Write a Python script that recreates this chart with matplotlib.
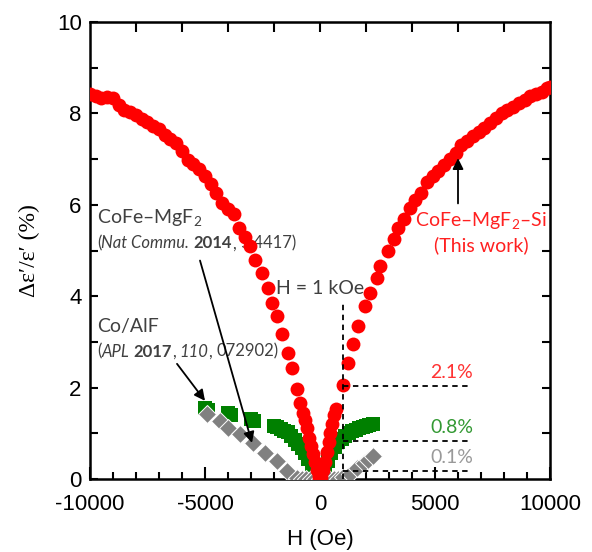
import matplotlib
matplotlib.use("Agg")
import matplotlib.pyplot as plt
from matplotlib.ticker import MultipleLocator

# ---------------- data ----------------
red_x = [-10000, -9750, -9500, -9250, -9000, -8750, -8500, -8250, -8000, -7750,
         -7500, -7250, -7000, -6750, -6500, -6250, -6000, -5750, -5500, -5250,
         -5000, -4750, -4500, -4250, -4000, -3750, -3500, -3250, -3050,
         -2830, -2520, -2260, -2090, -1870, -1650, -1390, -1220, -1000, -870,
         -750, -650, -560, -460, -380, -300, -200, -120, -40,
         40, 120, 200, 300, 380, 450, 520, 600, 680,
         1000, 1220, 1435, 1650, 1960, 2170, 2480, 2610, 2960,
         3200, 3400, 3650, 3900, 4150, 4400, 4650, 4900, 5150, 5400,
         5650, 5900, 6150, 6400, 6650, 6900, 7150, 7400, 7650, 7900,
         8150, 8400, 8650, 8900, 9150, 9400, 9650, 9850, 10000]
red_y = [8.42, 8.38, 8.33, 8.36, 8.33, 8.18, 8.08, 8.02, 7.96, 7.88,
         7.82, 7.72, 7.65, 7.53, 7.45, 7.36, 7.18, 6.98, 6.90, 6.78,
         6.62, 6.45, 6.25, 6.05, 5.90, 5.80, 5.50, 5.30, 5.10,
         4.80, 4.50, 4.19, 3.86, 3.57, 3.18, 2.76, 2.43, 1.97, 1.67,
         1.45, 1.30, 1.12, 0.90, 0.72, 0.55, 0.38, 0.20, 0.05,
         0.05, 0.20, 0.38, 0.60, 0.80, 1.00, 1.20, 1.40, 1.54,
         2.05, 2.54, 2.96, 3.35, 3.79, 4.08, 4.39, 4.67, 4.98,
         5.25, 5.50, 5.70, 5.92, 6.10, 6.25, 6.50, 6.62, 6.75, 6.88,
         7.00, 7.13, 7.30, 7.40, 7.50, 7.60, 7.68, 7.78, 7.90, 8.00,
         8.07, 8.15, 8.22, 8.30, 8.38, 8.42, 8.47, 8.55, 8.58]

green_x = [-5000, -4850, -4000, -3850, -3000, -2850,
           -2000, -1850, -1700, -1550, -1400, -1250, -1100, -950, -800, -650,
           -500, -350, -200, -80,
           80, 200, 350, 500, 650, 800, 950, 1100, 1250, 1400, 1550, 1700,
           1850, 2000, 2150, 2300]
green_y = [1.56, 1.50, 1.45, 1.40, 1.32, 1.27,
           1.16, 1.13, 1.10, 1.06, 1.02, 0.95, 0.86, 0.77, 0.68, 0.56,
           0.43, 0.30, 0.17, 0.05,
           0.08, 0.22, 0.40, 0.56, 0.70, 0.80, 0.88, 0.95, 1.00, 1.04, 1.08, 1.11,
           1.14, 1.16, 1.18, 1.20]

gray_x = [-4913, -4348, -4000, -3478, -2913, -2391, -1870, -1435, -1000,
          -800, -600, -400, -200, 0, 200, 400, 600, 800,
          1000, 1300, 1600, 1900, 2100, 2300]
gray_y = [1.42, 1.27, 1.12, 0.99, 0.79, 0.57, 0.39, 0.18, 0.02,
          0.0, 0.0, 0.0, 0.0, 0.0, 0.0, 0.0, 0.0, 0.0,
          0.05, 0.12, 0.25, 0.35, 0.42, 0.50]

h_ref = 1000
pct_levels = [2.04, 0.83, 0.18]
pct_labels = ["2.1%", "0.8%", "0.1%"]
pct_colors = ["#ff3333", "#339933", "#999999"]

# ---------------- figure ----------------
plt.rcParams['mathtext.fontset'] = 'custom'
plt.rcParams['mathtext.rm'] = 'Lato'
plt.rcParams['mathtext.it'] = 'Lato:italic'
plt.rcParams['mathtext.bf'] = 'Lato:bold'
plt.rcParams['axes.unicode_minus'] = False

fig = plt.figure(figsize=(5.92, 5.52), dpi=100)
ax = fig.add_axes([90/592, 73/552, 460/592, 457/552])

ax.plot(green_x, green_y, linestyle='none', marker='s', markersize=9.5,
        color='#008000', markeredgewidth=0, zorder=3)
ax.plot(gray_x, gray_y, linestyle='none', marker='D', markersize=9.5,
        color='#808080', markeredgecolor='white', markeredgewidth=0.7, zorder=4)
ax.plot(red_x, red_y, linestyle='none', marker='o', markersize=10,
        color='#ff0000', markeredgewidth=0, zorder=5)

# dashed guides
ax.plot([h_ref, h_ref], [0, 3.86], color='black', linestyle=(0, (3, 2.5)), lw=1.3, zorder=6)
for lvl, lab, col in zip(pct_levels, pct_labels, pct_colors):
    ax.plot([h_ref, 6600], [lvl, lvl], color='black', linestyle=(0, (3, 2.5)), lw=1.3, zorder=6)
    ax.text(6650, lvl + 0.1, lab, color=col, fontsize=14, family='Lato',
            ha='right', va='bottom')

txtc = '#404040'
ax.text(0, 4.17, "H = 1 kOe", color=txtc, fontsize=14, family='Lato', ha='center', va='center')

ax.text(-9700, 5.72, "CoFe–MgF$_2$", color=txtc, fontsize=14, family='Lato', ha='left', va='center')
ax.text(-9700, 3.33, "Co/AlF", color=txtc, fontsize=14, family='Lato', ha='left', va='center')


def rich(x, y, parts, size=12):
    """parts: list of (text, style, weight, gap_before_pts)."""
    prev = None
    for s, style, weight, gap in parts:
        kw = dict(color=txtc, fontsize=size, family='Lato', style=style, weight=weight)
        if prev is None:
            prev = ax.text(x, y, s, ha='left', va='bottom', **kw)
        else:
            prev = ax.annotate(s, xy=(1, 0), xycoords=prev, xytext=(gap, 0),
                               textcoords='offset points', ha='left', va='bottom', **kw)


rich(-9700, 4.98, [("(", 'normal', 'normal', 0),
                   ("Nat Commu.", 'italic', 'normal', 0),
                   ("2014", 'normal', 'bold', 3),
                   (",", 'normal', 'normal', 0),
                   ("5,4417)", 'normal', 'normal', 3)])
rich(-9700, 2.61, [("(", 'normal', 'normal', 0),
                   ("APL", 'italic', 'normal', 0),
                   ("2017", 'normal', 'bold', 3),
                   (",", 'normal', 'normal', 0),
                   ("110", 'italic', 'normal', 3),
                   (",", 'normal', 'normal', 0),
                   ("072902)", 'normal', 'normal', 3)])

ax.text(7000, 5.66, "CoFe–MgF$_2$–Si", color='#ff2020', fontsize=14, family='Lato',
        ha='center', va='center')
ax.text(7000, 5.11, "(This work)", color='#ff2020', fontsize=14, family='Lato',
        ha='center', va='center')

arrowprops = dict(arrowstyle='-|>', color='black', lw=1.3, mutation_scale=16, shrinkA=0, shrinkB=0)
ax.annotate("", xy=(6000, 7.02), xytext=(6000, 6.03), arrowprops=arrowprops, zorder=7)
ax.annotate("", xy=(-2957, 0.79), xytext=(-5217, 4.78), arrowprops=arrowprops, zorder=7)
ax.annotate("", xy=(-5000, 1.71), xytext=(-6217, 2.52), arrowprops=arrowprops, zorder=7)

# axes
ax.set_xlim(-10000, 10000)
ax.set_ylim(0, 10)
ax.xaxis.set_major_locator(MultipleLocator(5000))
ax.xaxis.set_minor_locator(MultipleLocator(1000))
ax.yaxis.set_major_locator(MultipleLocator(2))
ax.yaxis.set_minor_locator(MultipleLocator(1))
ax.tick_params(axis='x', which='major', direction='in', length=9, width=1.5,
               labelsize=16, pad=11)
ax.tick_params(axis='x', which='minor', direction='in', length=5, width=1.5)
ax.tick_params(axis='y', which='both', direction='in', length=6, width=1.5,
               labelsize=16, pad=6)
for lab in ax.get_xticklabels() + ax.get_yticklabels():
    lab.set_family('Liberation Sans')
for sp in ax.spines.values():
    sp.set_linewidth(1.8)

top = ax.secondary_xaxis('top')
top.set_xticks(list(range(-8000, 10000, 2000)))
top.tick_params(direction='in', length=7, width=1.5, labeltop=False)
right = ax.secondary_yaxis('right')
right.set_yticks(list(range(1, 10)))
right.tick_params(direction='in', length=6, width=1.5, labelright=False)

ax.set_xlabel("H (Oe)", fontsize=16, family='Liberation Sans', labelpad=10)
ax.set_ylabel("Δε′/ε′ (%)", fontsize=17, family='Liberation Serif', labelpad=12)

fig.savefig("out.png", dpi=100)
